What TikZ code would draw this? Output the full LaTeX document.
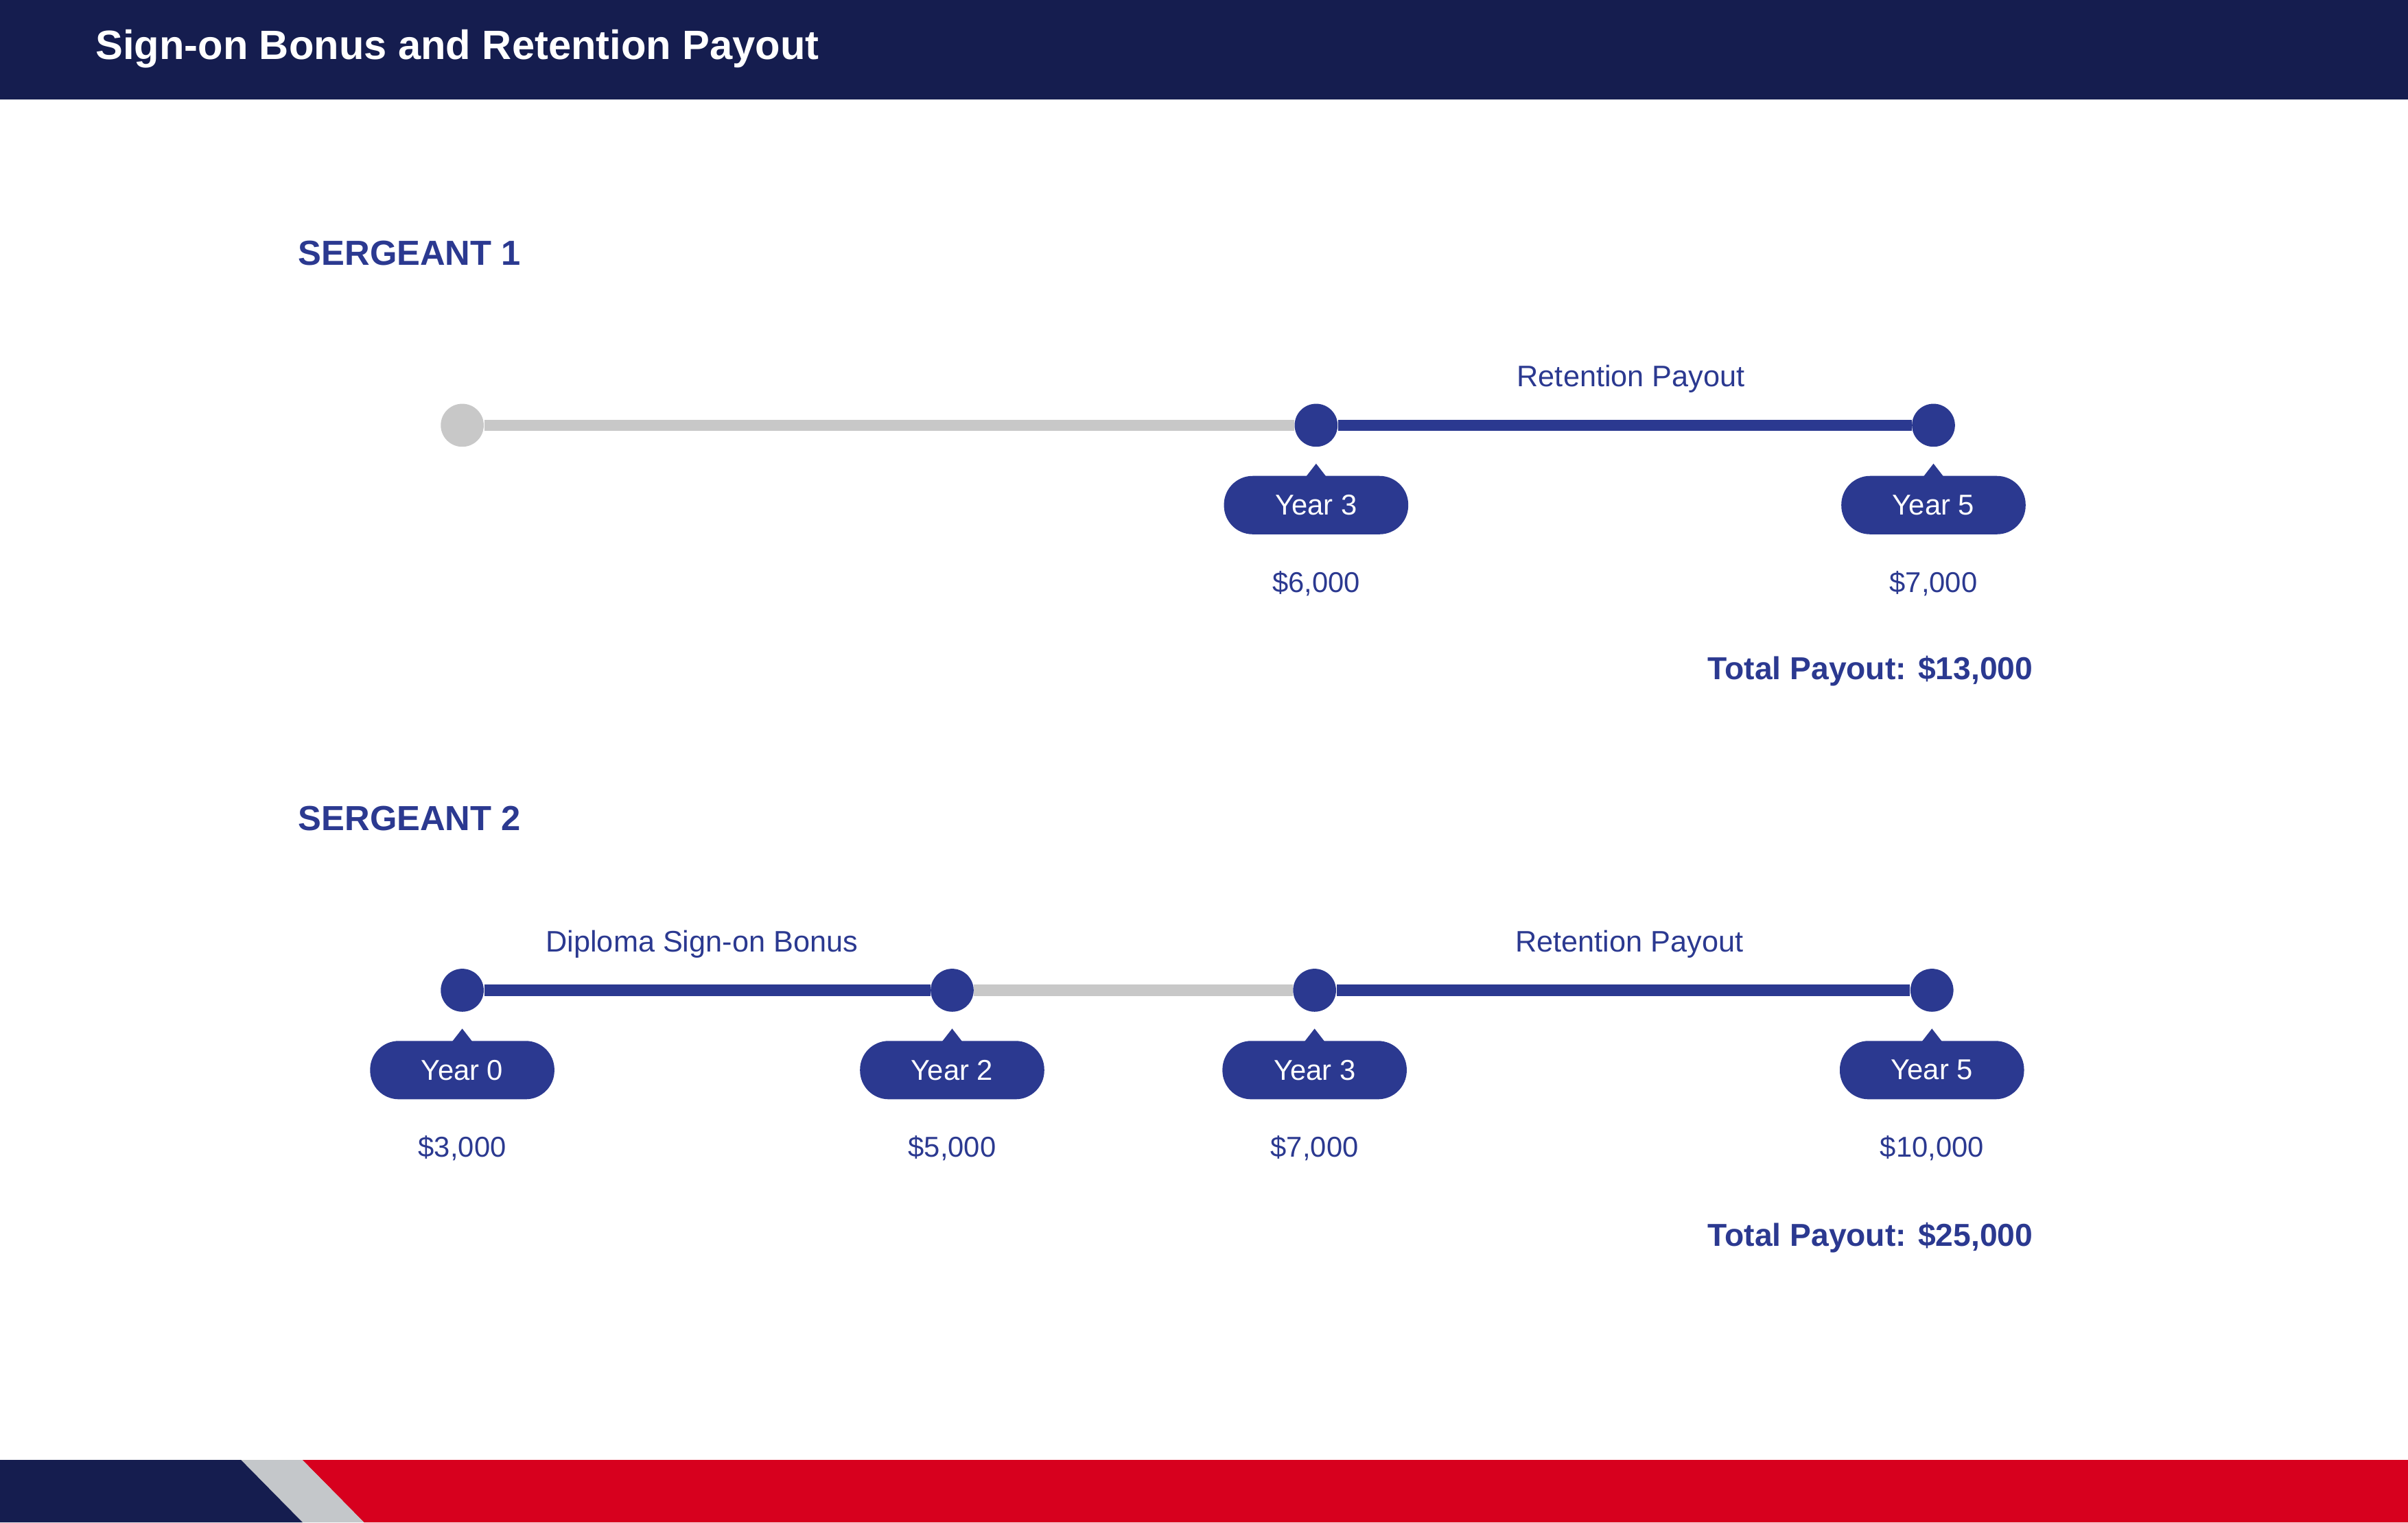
\documentclass[tikz,border=0pt]{standalone}
\usepackage{fontspec}
\setmainfont{Liberation Sans}
\usetikzlibrary{positioning}
\definecolor{navy}{RGB}{21,29,79}
\definecolor{blu}{RGB}{43,57,144}
\definecolor{gry}{RGB}{200,200,200}
\definecolor{stripe}{RGB}{196,199,202}
\definecolor{rd}{RGB}{215,0,30}
\tikzset{
  dot/.style={circle,fill=blu,minimum size=21pt,inner sep=0pt},
  greydot/.style={dot,fill=gry},
  tag/.style={fill=blu,text=white,rounded corners=14pt,minimum width=90pt,minimum height=28.5pt,inner sep=0pt,font=\fontsize{14}{16}\selectfont},
  amount/.style={text=blu,font=\fontsize{14}{16}\selectfont},
  caption/.style={text=blu,font=\fontsize{14.5}{17}\selectfont},
  heading/.style={text=blu,anchor=west,inner sep=0pt,font=\bfseries\fontsize{17}{20}\selectfont},
  total/.style={text=blu,anchor=east,inner sep=0pt,font=\bfseries\fontsize{15.5}{18}\selectfont},
  navyline/.style={blu,line width=5.5pt},
  greyline/.style={gry,line width=5.5pt}
}
\begin{document}
\begin{tikzpicture}[x=0.75pt,y=0.75pt,yscale=-1,xscale=1]
\useasboundingbox (0,0) rectangle (1568,991.6);

% header and footer
\fill[navy] (0,0) rectangle (1568,65);
\node[anchor=west,inner sep=0pt,text=white,font=\bfseries\fontsize{20}{24}\selectfont] (title) at (62,32) {Sign-on Bonus and Retention Payout};
\fill[rd] (197,951) -- (1568,951) -- (1568,991.6) -- (237,991.6) -- cycle;
\fill[stripe] (157,951) -- (197,951) -- (237,991.6) -- (197,991.6) -- cycle;
\fill[navy] (0,951) -- (157,951) -- (197,991.6) -- (0,991.6) -- cycle;

% Sergeant 1
\node[heading] (s1) at (194,165) {SERGEANT 1};
\node[greydot] (a0) at (301,277) {};
\node[dot] (a3) at (857,277) {};
\node[dot] (a5) at (1259,277) {};
\draw[greyline] (a0) -- (a3);
\draw[navyline] (a3) -- (a5);
\node[caption] (ra) at (1062,247) {Retention Payout};
\foreach \n/\x/\y/\amt in {a3/857/Year 3/{\$6,000}, a5/1259/Year 5/{\$7,000}}{
  \node[tag] (t\n) at (\x,329) {\y};
  \fill[blu] (\x-7,311) -- (\x,302) -- (\x+7,311) -- cycle;
  \node[amount] (m\n) at (\x,380) {\amt};
}
\node[total] (tot1) at (1324,437) {Total Payout: \$13,000};

% Sergeant 2
\node[heading] (s2) at (194,533) {SERGEANT 2};
\node[dot] (b0) at (301,645) {};
\node[dot] (b2) at (620,645) {};
\node[dot] (b3) at (856,645) {};
\node[dot] (b5) at (1258,645) {};
\draw[navyline] (b0) -- (b2);
\draw[greyline] (b2) -- (b3);
\draw[navyline] (b3) -- (b5);
\node[caption] (db) at (457,615) {Diploma Sign-on Bonus};
\node[caption] (rb) at (1061,615) {Retention Payout};
\foreach \n/\x/\y/\amt in {b0/301/Year 0/{\$3,000}, b2/620/Year 2/{\$5,000}, b3/856/Year 3/{\$7,000}, b5/1258/Year 5/{\$10,000}}{
  \node[tag] (t\n) at (\x,697) {\y};
  \fill[blu] (\x-7,679) -- (\x,670) -- (\x+7,679) -- cycle;
  \node[amount] (m\n) at (\x,748) {\amt};
}
\node[total] (tot2) at (1324,806) {Total Payout: \$25,000};

\end{tikzpicture}
\end{document}
